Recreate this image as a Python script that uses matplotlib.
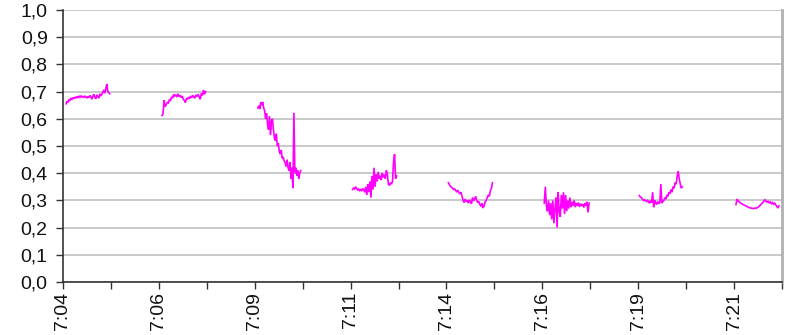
import numpy as np
import matplotlib
matplotlib.use("Agg")
import matplotlib.pyplot as plt
from matplotlib.ticker import MultipleLocator, FixedLocator, FuncFormatter

plt.rcParams['font.family'] = ['Liberation Sans', 'DejaVu Sans']

# Recording windows, minutes after 7:04:00 (start, end)
windows = [
    (0.08, 1.22),
    (2.58, 3.72),
    (5.08, 6.20),
    (7.55, 8.70),
    (10.05, 11.20),
    (12.55, 13.72),
    (15.03, 16.15),
    (17.55, 18.67),
]

seg1 = [0.655, 0.665, 0.660, 0.670, 0.668, 0.675, 0.672, 0.678, 0.674, 0.680,
        0.676, 0.682, 0.678, 0.683, 0.679, 0.684, 0.680, 0.682, 0.678, 0.684,
        0.680, 0.676, 0.682, 0.678, 0.686, 0.680, 0.672, 0.684, 0.690, 0.678,
        0.674, 0.688, 0.682, 0.676, 0.692, 0.684, 0.690, 0.698, 0.706, 0.694,
        0.712, 0.728, 0.700, 0.696, 0.692]
seg2 = [0.612, 0.618, 0.668, 0.645, 0.652, 0.660, 0.658, 0.670, 0.668, 0.680,
        0.676, 0.690, 0.684, 0.688, 0.680, 0.692, 0.682, 0.686, 0.678, 0.684,
        0.672, 0.668, 0.660, 0.676, 0.672, 0.680, 0.674, 0.684, 0.678, 0.686,
        0.680, 0.676, 0.688, 0.682, 0.690, 0.680, 0.672, 0.694, 0.686, 0.706,
        0.690, 0.700]
seg3 = [0.640, 0.648, 0.636, 0.660, 0.650, 0.662, 0.640, 0.630, 0.600, 0.620,
        0.580, 0.560, 0.610, 0.540, 0.590, 0.600, 0.560, 0.530, 0.520, 0.545,
        0.500, 0.510, 0.480, 0.470, 0.485, 0.455, 0.460, 0.445, 0.440, 0.425,
        0.450, 0.420, 0.410, 0.440, 0.380, 0.420, 0.345, 0.622, 0.400, 0.420,
        0.390, 0.410, 0.380, 0.400, 0.410]
seg4 = [0.340, 0.345, 0.342, 0.350, 0.344, 0.338, 0.342, 0.336, 0.340, 0.334,
        0.344, 0.338, 0.330, 0.350, 0.320, 0.360, 0.330, 0.370, 0.310, 0.390,
        0.340, 0.420, 0.350, 0.395, 0.370, 0.405, 0.380, 0.390, 0.375, 0.400,
        0.385, 0.395, 0.380, 0.410, 0.395, 0.360, 0.355, 0.365, 0.360, 0.370,
        0.440, 0.470, 0.380, 0.390]
seg5 = [0.365, 0.358, 0.352, 0.348, 0.345, 0.340, 0.342, 0.336, 0.332, 0.338,
        0.328, 0.325, 0.330, 0.315, 0.300, 0.292, 0.305, 0.296, 0.300, 0.290,
        0.302, 0.296, 0.288, 0.310, 0.298, 0.305, 0.315, 0.300, 0.292, 0.296,
        0.285, 0.278, 0.290, 0.272, 0.280, 0.295, 0.300, 0.310, 0.320, 0.315,
        0.335, 0.345, 0.365]
seg6 = [0.290, 0.350, 0.280, 0.260, 0.300, 0.246, 0.290, 0.230, 0.300, 0.216,
        0.270, 0.310, 0.200, 0.330, 0.260, 0.240, 0.320, 0.270, 0.330, 0.250,
        0.320, 0.260, 0.300, 0.270, 0.310, 0.275, 0.295, 0.280, 0.300, 0.275,
        0.290, 0.280, 0.292, 0.276, 0.288, 0.282, 0.286, 0.274, 0.290, 0.280,
        0.295, 0.256, 0.290]
seg7 = [0.318, 0.312, 0.310, 0.305, 0.300, 0.302, 0.298, 0.296, 0.300, 0.294,
        0.290, 0.300, 0.292, 0.330, 0.275, 0.300, 0.290, 0.285, 0.296, 0.288,
        0.292, 0.360, 0.290, 0.296, 0.300, 0.310, 0.305, 0.320, 0.315, 0.330,
        0.325, 0.340, 0.330, 0.350, 0.345, 0.365, 0.360, 0.390, 0.408, 0.380,
        0.360, 0.345, 0.350]
seg8 = [0.285, 0.305, 0.298, 0.295, 0.292, 0.288, 0.286, 0.284, 0.282, 0.280,
        0.278, 0.276, 0.274, 0.273, 0.272, 0.271, 0.270, 0.271, 0.272, 0.271,
        0.274, 0.276, 0.280, 0.284, 0.288, 0.292, 0.298, 0.302, 0.296, 0.294,
        0.298, 0.290, 0.294, 0.288, 0.292, 0.286, 0.290, 0.284, 0.278, 0.272,
        0.280]
segments = [seg1, seg2, seg3, seg4, seg5, seg6, seg7, seg8]

tick_labels = ["7:04", "7:06", "7:09", "7:11", "7:14", "7:16", "7:19", "7:21"]
major_step = 2.5   # minutes between labelled ticks
x_max = 18.75

fig = plt.figure(figsize=(7.92, 3.35), dpi=100)
ax = fig.add_axes([63 / 792, 1 - 282 / 335, (782 - 63) / 792, (282 - 10) / 335])

for (t0, t1), vals in zip(windows, segments):
    t = np.linspace(t0, t1, len(vals))
    ax.plot(t, vals, color='#FF00FF', lw=1.2, solid_joinstyle='miter')

ax.set_xlim(0, x_max)
ax.set_ylim(0, 1.0)

ax.yaxis.set_major_locator(MultipleLocator(0.1))
ax.yaxis.set_major_formatter(FuncFormatter(lambda v, p: f"{v:.1f}".replace('.', ',')))
ax.grid(axis='y', color='#c0c0c0', lw=1.2)
ax.set_axisbelow(True)

major_pos = [i * major_step for i in range(len(tick_labels))]
ax.xaxis.set_major_locator(FixedLocator(major_pos))
ax.set_xticklabels(tick_labels, rotation=90)
ax.xaxis.set_minor_locator(MultipleLocator(major_step / 2))
ax.tick_params(axis='x', which='both', direction='out', length=5, width=1,
               color='#333333', pad=2, labelsize=14, labelcolor='#111111')
ax.tick_params(axis='y', direction='out', length=5, width=1, color='#333333',
               labelsize=14, pad=6, labelcolor='#111111')

for side in ['left', 'bottom']:
    ax.spines[side].set_color('#333333')
    ax.spines[side].set_linewidth(1.2)
ax.spines['top'].set_visible(False)
ax.spines['right'].set_color('#b0b0b0')
ax.spines['right'].set_linewidth(2)

fig.savefig('out.png', dpi=100)
